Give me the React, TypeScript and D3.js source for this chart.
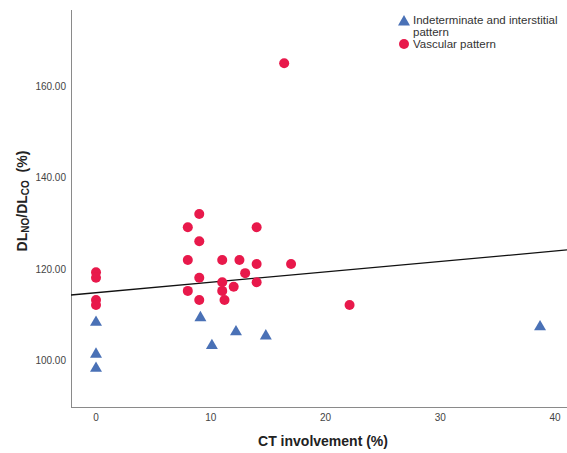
import React, { useRef, useEffect } from "react";
import * as d3 from "d3";

// CT involvement (%) and DLNO/DLCO (%)
const vascularX = [0, 0, 0, 0, 9, 8, 14, 9, 8, 11, 12.5, 14, 17, 13, 9, 11, 14, 12, 8, 11, 9, 11.2, 22.1, 16.4];
const vascularY = [119.3, 118.1, 113.2, 112.1, 132.1, 129.2, 129.2, 126.1, 122.0, 122.0, 122.0, 121.1, 121.1, 119.1, 118.1, 117.1, 117.1, 116.1, 115.2, 115.2, 113.2, 113.2, 112.1, 165.2];

const interstitialX = [0, 0, 0, 9.1, 10.1, 12.2, 14.8, 38.7];
const interstitialY = [108.3, 101.3, 98.2, 109.3, 103.2, 106.2, 105.3, 107.3];

const xTicks = [0, 10, 20, 30, 40];
const yTicks = [100, 120, 140, 160];

// fitted line
const fitIntercept = 114.8;
const fitSlope = 0.229;

const legendLabels = ["Indeterminate and interstitial", "pattern", "Vascular pattern"];

const RED = "#e8194b";
const BLUE = "#4a71b6";

export default function App() {
	const ref = useRef<SVGSVGElement>(null);

	const layout = { width: 567, height: 453, left: 71, right: 567, top: 10, bottom: 407 };

	useEffect(() => {
		const svg = d3.select(ref.current);
		svg.selectAll("*").remove();

		const xScale = d3.scaleLinear().domain([-2.18, 41.05]).range([layout.left, layout.right]);
		const yScale = d3.scaleLinear().domain([89.7, 176.9]).range([layout.bottom, layout.top]);

		const font = "'Liberation Sans', Arial, sans-serif";

		// axes lines
		svg.append("line")
			.attr("x1", layout.left + 0.5).attr("x2", layout.left + 0.5)
			.attr("y1", layout.top).attr("y2", layout.bottom)
			.attr("stroke", "#8a8a8a").attr("stroke-width", 1);
		svg.append("line")
			.attr("x1", layout.left).attr("x2", layout.right)
			.attr("y1", layout.bottom + 0.5).attr("y2", layout.bottom + 0.5)
			.attr("stroke", "#8a8a8a").attr("stroke-width", 1);

		// tick labels
		svg.selectAll(".xtick")
			.data(xTicks)
			.join("text")
			.attr("class", "xtick")
			.attr("x", d => xScale(d))
			.attr("y", 421)
			.attr("text-anchor", "middle")
			.attr("font-family", font)
			.attr("font-size", 10)
			.attr("fill", "#444")
			.text(d => d);

		svg.selectAll(".ytick")
			.data(yTicks)
			.join("text")
			.attr("class", "ytick")
			.attr("x", 66)
			.attr("y", d => yScale(d) + 3.5)
			.attr("text-anchor", "end")
			.attr("font-family", font)
			.attr("font-size", 10)
			.attr("fill", "#444")
			.text(d => d.toFixed(2));

		// fit line
		const xd = xScale.domain();
		svg.append("line")
			.attr("x1", xScale(xd[0])).attr("y1", yScale(fitIntercept + fitSlope * xd[0]))
			.attr("x2", xScale(xd[1])).attr("y2", yScale(fitIntercept + fitSlope * xd[1]))
			.attr("stroke", "#111").attr("stroke-width", 1.3);

		// triangles
		const tri = d3.symbol().type(d3.symbolTriangle).size(62);
		svg.selectAll(".tri")
			.data(interstitialX.map((x, i) => ({ x, y: interstitialY[i] })))
			.join("path")
			.attr("class", "tri")
			.attr("d", tri)
			.attr("transform", d => `translate(${xScale(d.x)},${yScale(d.y)})`)
			.attr("fill", BLUE);

		// circles
		svg.selectAll(".dot")
			.data(vascularX.map((x, i) => ({ x, y: vascularY[i] })))
			.join("circle")
			.attr("class", "dot")
			.attr("cx", d => xScale(d.x))
			.attr("cy", d => yScale(d.y))
			.attr("r", 5)
			.attr("fill", RED);

		// legend
		svg.append("path")
			.attr("d", tri)
			.attr("transform", "translate(404,22)")
			.attr("fill", BLUE);
		svg.append("circle")
			.attr("cx", 404).attr("cy", 44).attr("r", 5).attr("fill", RED);
		const ly = [24, 36, 48];
		legendLabels.forEach((t, i) => {
			svg.append("text")
				.attr("x", 413).attr("y", ly[i])
				.attr("font-family", font)
				.attr("font-size", 11.5)
				.attr("fill", "#333")
				.text(t);
		});

		// axis titles
		svg.append("text")
			.attr("x", 323).attr("y", 446)
			.attr("text-anchor", "middle")
			.attr("font-family", font)
			.attr("font-size", 14)
			.attr("font-weight", "bold")
			.attr("fill", "#222")
			.text("CT involvement (%)");

		const yt = svg.append("text")
			.attr("transform", "translate(27,201) rotate(-90)")
			.attr("text-anchor", "middle")
			.attr("font-family", font)
			.attr("font-size", 14)
			.attr("font-weight", "bold")
			.attr("fill", "#222");
		yt.append("tspan").text("DL");
		yt.append("tspan").attr("font-size", 10).attr("dy", 2).text("NO");
		yt.append("tspan").attr("dy", -2).text("/DL");
		yt.append("tspan").attr("font-size", 10).attr("dy", 2).text("CO");
		yt.append("tspan").attr("dy", -2).text("\u00a0\u00a0(%)");
	}, []);

	return (
		<svg
			ref={ref}
			width={layout.width}
			height={layout.height}
			style={{ position: "absolute", left: 0, top: 0, background: "#fff" }}
		/>
	);
}
